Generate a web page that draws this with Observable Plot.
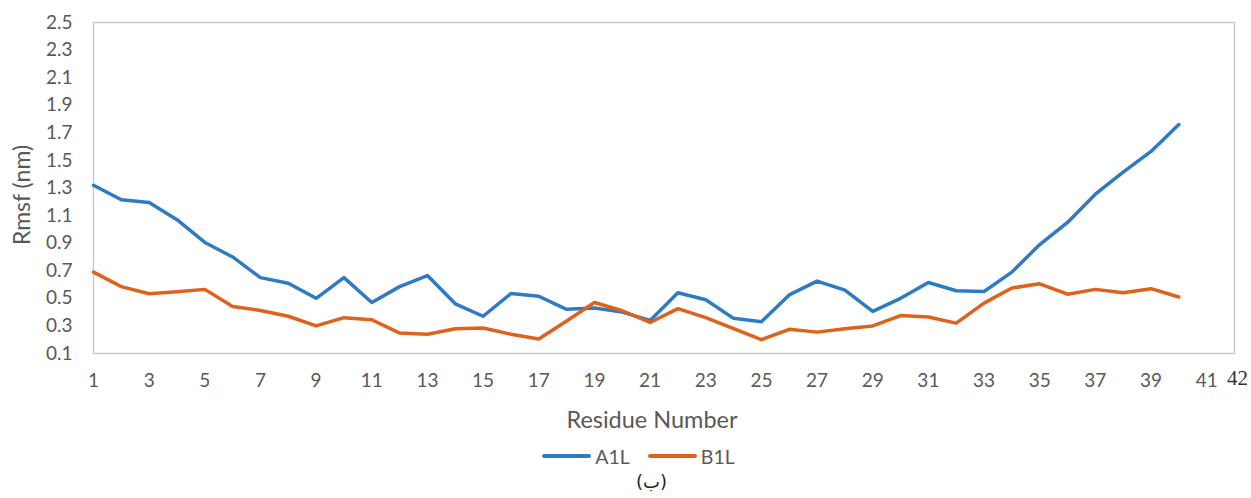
<!DOCTYPE html>
<html>
<head>
<meta charset="utf-8">
<script src="https://cdn.jsdelivr.net/npm/d3@7"></script>
<script src="https://cdn.jsdelivr.net/npm/@observablehq/plot@0.6"></script>
<style>
  html, body { margin: 0; padding: 0; background: #fff; }
  body { width: 1251px; font-family: Lato, "Open Sans", sans-serif; color: #595959; }
  #chart svg { display: block; }
  #legend { display: flex; justify-content: center; align-items: center; gap: 18px; height: 32px; font-size: 19.5px; margin-left: 26px; }
  .item { display: flex; align-items: center; }
  .swatch { width: 49px; height: 4px; margin-right: 4px; border-radius: 2px; }
  #caption { text-align: center; font-size: 18px; line-height: 20px; height: 24px; color: #222; margin-left: 52px; font-family: "DejaVu Sans", sans-serif; }
</style>
</head>
<body>
<div id="chart"></div>
<div id="legend"></div>
<div id="caption">(ب)</div>
<script>
const residues = d3.range(1, 41);
const a1l = [1.32, 1.215, 1.195, 1.07, 0.905, 0.80, 0.65, 0.61, 0.50, 0.65,
             0.47, 0.585, 0.665, 0.46, 0.37, 0.535, 0.515, 0.42, 0.43, 0.40,
             0.34, 0.54, 0.49, 0.355, 0.33, 0.525, 0.625, 0.56, 0.405, 0.50,
             0.615, 0.555, 0.55, 0.69, 0.89, 1.05, 1.255, 1.415, 1.565, 1.76];
const b1l = [0.69, 0.585, 0.533, 0.548, 0.565, 0.44, 0.412, 0.37, 0.30, 0.36,
             0.345, 0.248, 0.24, 0.28, 0.285, 0.24, 0.205, 0.335, 0.47, 0.41,
             0.325, 0.425, 0.36, 0.28, 0.20, 0.275, 0.255, 0.28, 0.30, 0.375,
             0.365, 0.32, 0.465, 0.575, 0.605, 0.53, 0.565, 0.54, 0.57, 0.51];
const seriesNames = ["A1L", "B1L"];
const seriesColors = ["#2e7bc4", "#e0611b"];
const xTicks = d3.range(1, 42, 2);
const xExtraTick = [42];
const yTicks = d3.range(0.1, 2.51, 0.2).map(v => +v.toFixed(1));

const data = [];
residues.forEach((r, i) => {
  data.push({residue: r, rmsf: a1l[i], series: "A1L"});
  data.push({residue: r, rmsf: b1l[i], series: "B1L"});
});

const chart = Plot.plot({
  width: 1251,
  height: 440,
  marginTop: 22,
  marginBottom: 87,
  marginLeft: 93,
  marginRight: 17,
  style: {fontFamily: "Lato, 'Open Sans', sans-serif", color: "#595959"},
  x: {domain: [1, 42], label: null},
  y: {domain: [0.1, 2.5], label: null},
  color: {domain: seriesNames, range: seriesColors},
  marks: [
    Plot.frame({stroke: "#c4c4c4", strokeWidth: 1.3}),
    Plot.axisX(xTicks, {tickSize: 0, tickPadding: 20, fontSize: 19, tickFormat: d => d}),
    Plot.text(xExtraTick, {x: d => d, frameAnchor: "bottom", dy: 31, dx: 3, fontSize: 21, fontFamily: "'Liberation Serif', serif", fill: "#333", text: d => String(d)}),
    Plot.axisY(yTicks, {tickSize: 0, tickPadding: 21, fontSize: 19, tickFormat: d => d.toFixed(1)}),
    Plot.text(["Residue Number"], {frameAnchor: "bottom", dy: 74, dx: -12, fontSize: 23.5, fill: "#595959"}),
    Plot.text(["Rmsf (nm)"], {frameAnchor: "left", textAnchor: "middle", dx: -71, dy: 7, rotate: -90, fontSize: 23, fill: "#595959"}),
    Plot.line(data, {x: "residue", y: "rmsf", stroke: "series", strokeWidth: 3.5, strokeLinejoin: "round", strokeLinecap: "round"})
  ]
});
document.getElementById("chart").appendChild(chart);

const legend = document.getElementById("legend");
seriesNames.forEach((n, i) => {
  const it = document.createElement("div");
  it.className = "item";
  it.innerHTML = `<span class="swatch" style="background:${seriesColors[i]}"></span><span>${n}</span>`;
  legend.appendChild(it);
});
</script>
</body>
</html>
